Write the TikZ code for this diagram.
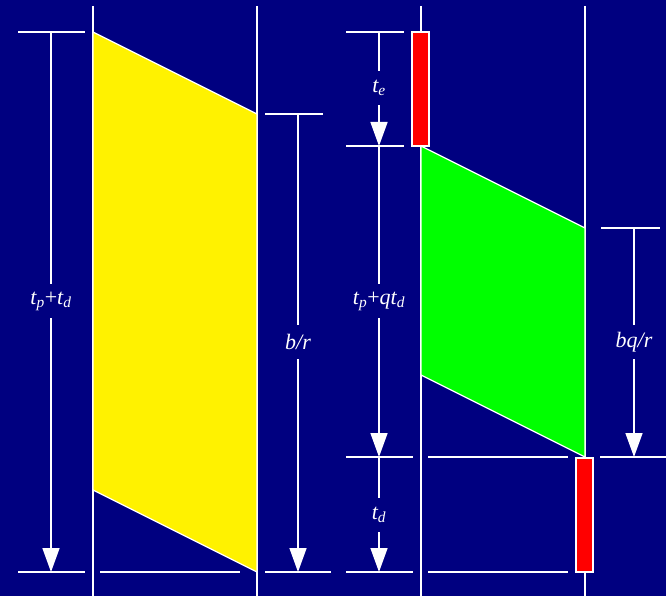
\documentclass[tikz,border=0pt]{standalone}
\usepackage{fontspec}
\setmainfont{Liberation Serif}
\usetikzlibrary{arrows.meta}
\definecolor{bg}{RGB}{0,0,128}
\newcommand{\sbs}[1]{\textsubscript{#1}}
\tikzset{
  ln/.style={white, line width=1.5pt},
  dimarrow/.style={ln, -{Triangle[width=17pt,length=24pt]}},
  lab/.style={text=white, font=\fontsize{22}{24}\selectfont\itshape, inner sep=0pt, minimum height=34pt},
  blk/.style={draw=white, line width=1.2pt}
}
\begin{document}
\begin{tikzpicture}[x=1pt,y=-1pt]
\fill[bg] (0,0) rectangle (666,596);
\useasboundingbox (0,0) rectangle (666,596);
% vertical time lines
\coordinate (La) at (93,6);  \coordinate (Lab) at (93,596);
\coordinate (Lb) at (257,6); \coordinate (Lbb) at (257,596);
\coordinate (Ra) at (421,6); \coordinate (Rab) at (421,596);
\coordinate (Rb) at (585,6); \coordinate (Rbb) at (585,596);
\draw[ln] (La) -- (Lab);
\draw[ln] (Lb) -- (Lbb);
\draw[ln] (Ra) -- (Rab);
\draw[ln] (Rb) -- (Rbb);
% shapes
\filldraw[fill=yellow, blk] (93,32) -- (257,114) -- (257,572) -- (93,490) -- cycle;
\filldraw[fill=green, blk] (421,146) -- (585,228) -- (585,457) -- (421,375) -- cycle;
\filldraw[fill=red, blk] (412,32) rectangle (429,146);
\filldraw[fill=red, blk] (576,458) rectangle (593,572);
% ticks left diagram
\draw[ln] (18,32) -- (85,32);
\draw[ln] (18,572) -- (85,572);
\draw[ln] (100,572) -- (240,572);
\draw[ln] (265,114) -- (323,114);
\draw[ln] (265,572) -- (331,572);
% ticks right diagram
\draw[ln] (346,32) -- (404,32);
\draw[ln] (346,146) -- (404,146);
\draw[ln] (346,457) -- (413,457);
\draw[ln] (346,572) -- (413,572);
\draw[ln] (428,457) -- (568,457);
\draw[ln] (428,572) -- (568,572);
\draw[ln] (601,228) -- (660,228);
\draw[ln] (600,457) -- (666,457);
% dimension: left diagram
\coordinate (d1t) at (51,32); \coordinate (d1b) at (51,572);
\node[lab] (l1) at (51,301) {t\sbs{p}{\upshape+}t\sbs{d}};
\draw[ln] (d1t) -- (l1.north);
\draw[dimarrow] (l1.south) -- (d1b);
\coordinate (d2t) at (298,114); \coordinate (d2b) at (298,572);
\node[lab] (l2) at (298,342) {b/r};
\draw[ln] (d2t) -- (l2.north);
\draw[dimarrow] (l2.south) -- (d2b);
% dimension: right diagram
\coordinate (d3a) at (379,32); \coordinate (d3b) at (379,146);
\coordinate (d3c) at (379,457); \coordinate (d3d) at (379,572);
\node[lab] (l3) at (379,88) {t\sbs{e}};
\node[lab] (l4) at (379,301) {t\sbs{p}{\upshape+}qt\sbs{d}};
\node[lab] (l5) at (379,515) {t\sbs{d}};
\draw[ln] (d3a) -- (l3.north);
\draw[dimarrow] (l3.south) -- (d3b);
\draw[ln] (d3b) -- (l4.north);
\draw[dimarrow] (l4.south) -- (d3c);
\draw[ln] (d3c) -- (l5.north);
\draw[dimarrow] (l5.south) -- (d3d);
\coordinate (d4t) at (634,228); \coordinate (d4b) at (634,457);
\node[lab] (l6) at (634,342) {bq/r};
\draw[ln] (d4t) -- (l6.north);
\draw[dimarrow] (l6.south) -- (d4b);
\end{tikzpicture}
\end{document}
